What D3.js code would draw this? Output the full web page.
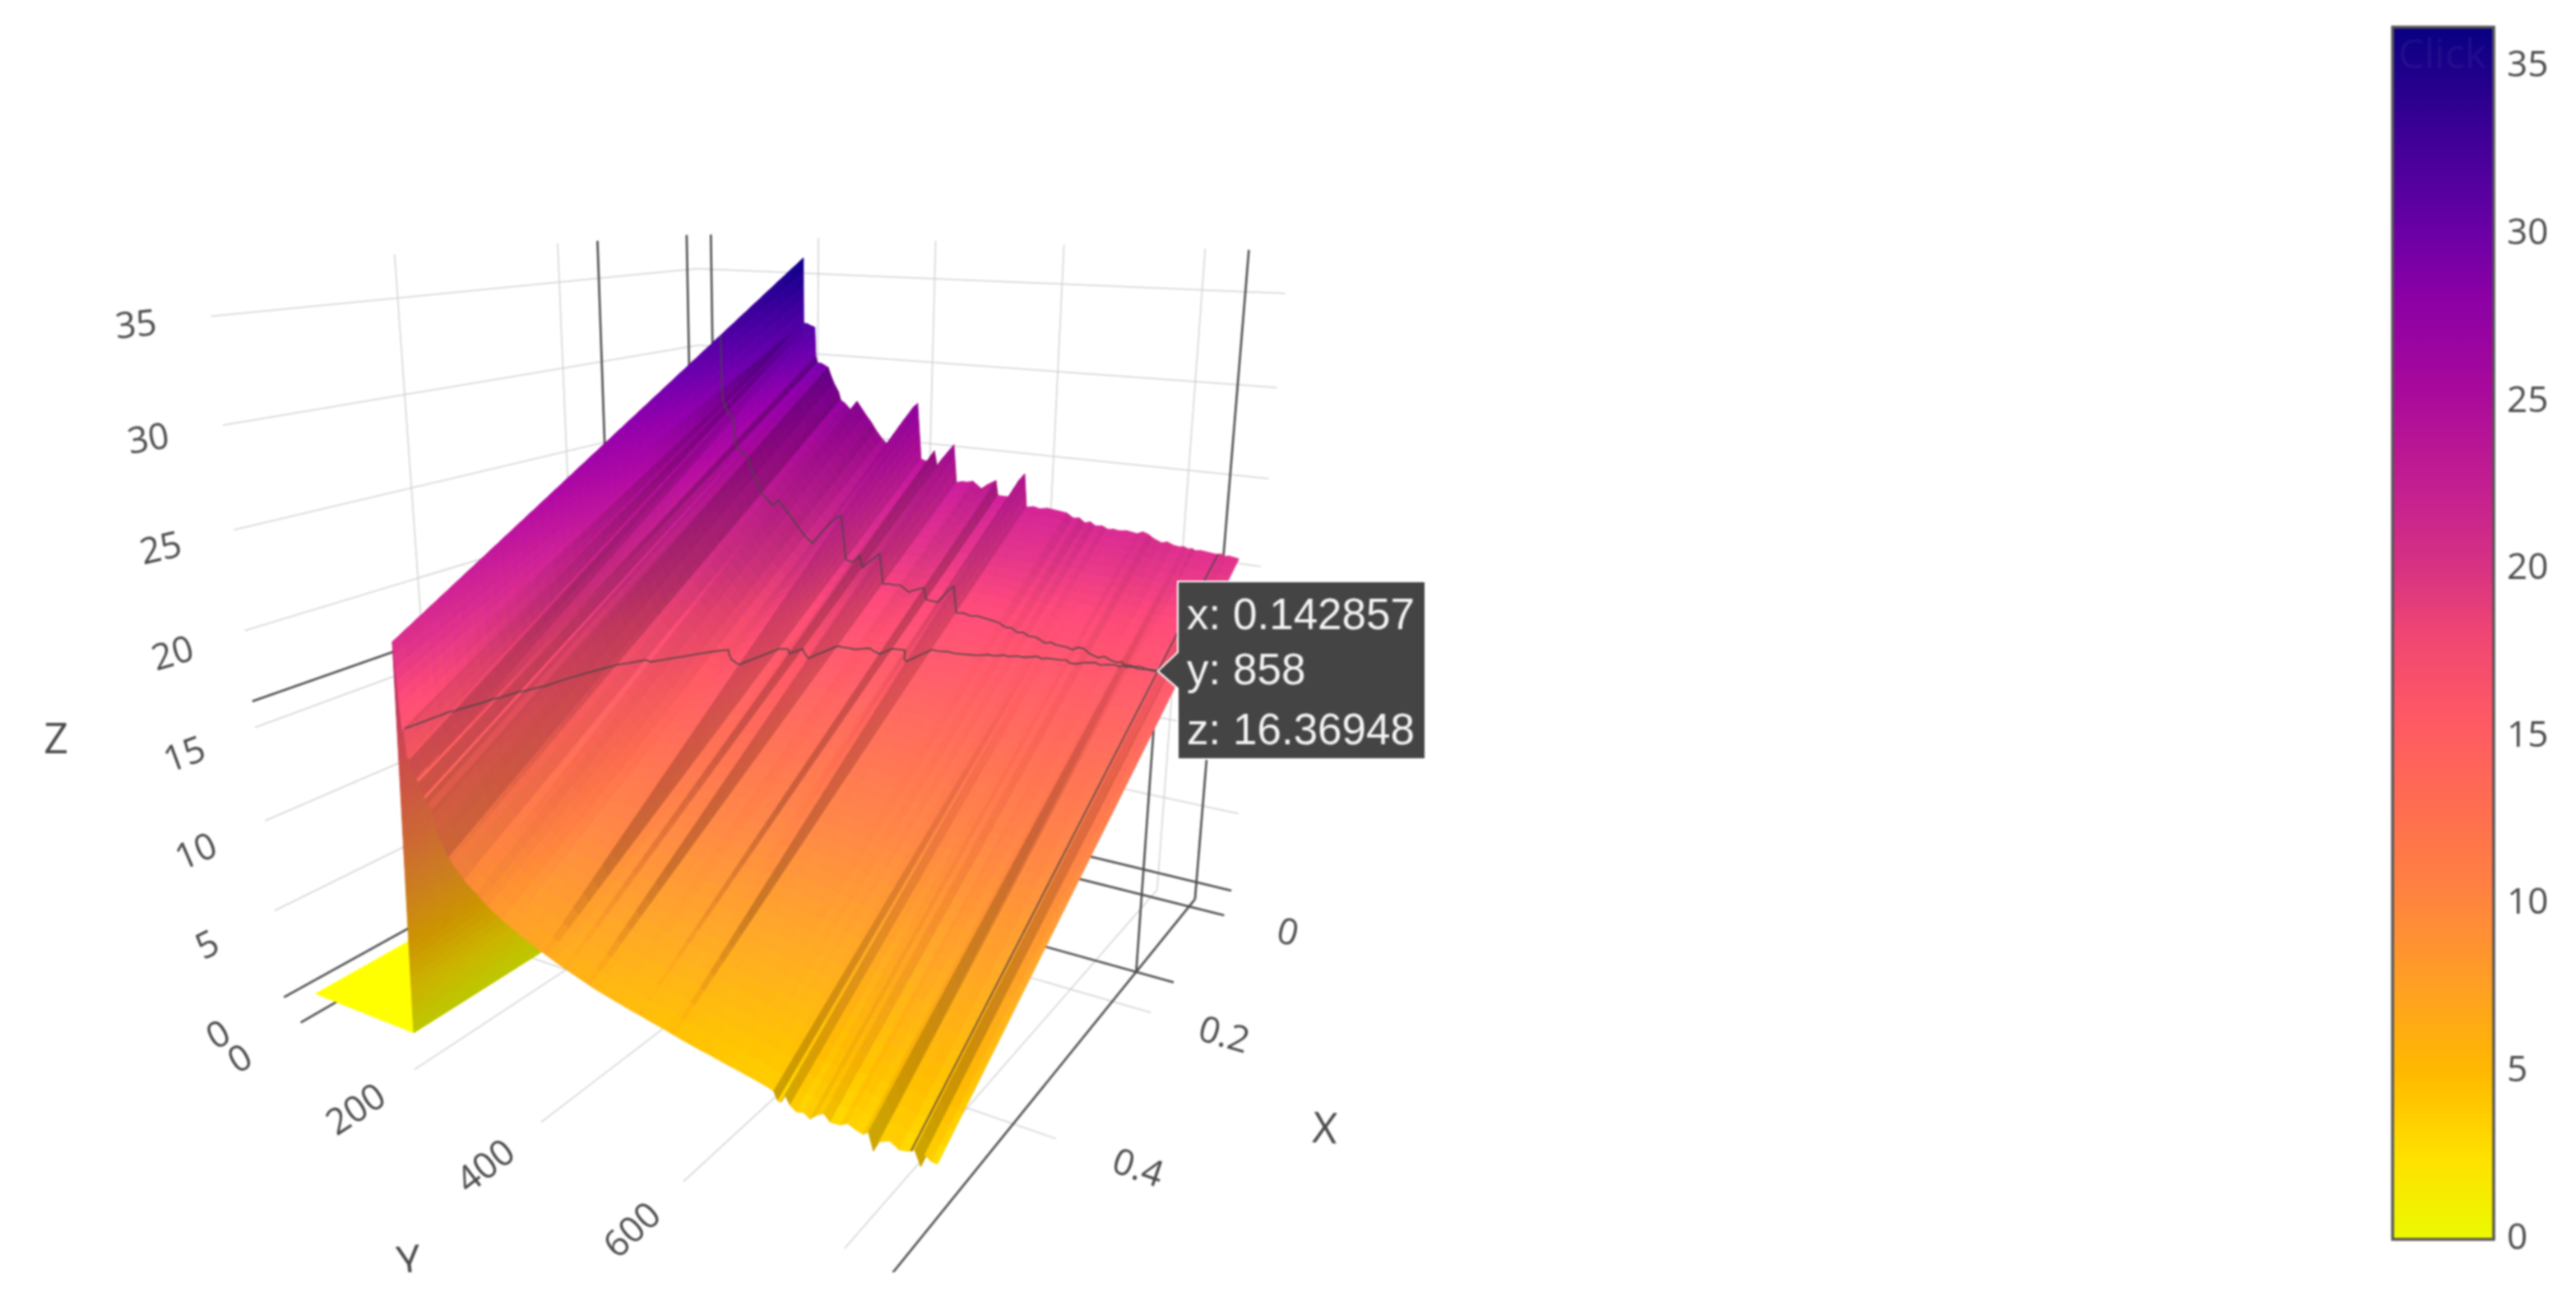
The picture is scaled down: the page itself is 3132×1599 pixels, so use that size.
<!DOCTYPE html>
<html>
<head>
<meta charset="utf-8">
<script src="https://cdnjs.cloudflare.com/ajax/libs/d3/7.8.5/d3.min.js"></script>
<style>
    html, body { margin: 0; background: #fff; }
    svg { display: block; filter: blur(0.8px); }
    text { font-family: "Open Sans", sans-serif; fill: #4a4a4a; }
    .tip text { font-family: "Liberation Sans", Arial, sans-serif; fill: #f4f4f4; }
</style>
</head>
<body>
<svg id="chart" width="3132" height="1599"></svg>
<script>
// surface data: z at both ends of x for every y row
var yValues = [0, 174, 190, 191, 193, 195, 197, 200, 203, 207, 211, 213, 216, 222, 225, 228, 233, 235, 240, 246, 254, 258, 266, 277, 282, 287, 295,
    303, 312, 321, 332, 344, 358, 370, 385, 391, 399, 409, 415, 421, 426, 435, 445, 453, 459, 468, 477,
    486, 493, 500, 510, 523, 527, 535, 544, 552, 560, 568, 573, 584, 594, 605, 616, 627, 636, 646, 655,
    664, 672, 680, 690, 698, 703, 707, 712, 718, 726, 734, 742, 750, 758, 766, 778, 786, 795, 804, 810,
    816, 822, 826, 834, 845, 856, 862, 869, 873, 881, 887];
var zAtXMin = [0, 0, 36, 32, 32, 32, 32, 31.95, 31.9, 31.85, 31.8, 30, 29.6, 29.6, 29.55, 29.5, 29.4, 29.4, 28.9, 28.4, 27.9, 27.4, 27.2, 26.8, 27.1, 27.4, 27,
    26.6, 26.2, 25.7, 25.2, 24.8, 25.8, 26.6, 27.4, 27.6, 24.2, 24.1, 24.4, 24.8, 23.9, 24.4, 24.9, 25.3, 23, 23.1, 23.1,
    23.2, 23, 22.8, 23.1, 23.4, 22.5, 22.5, 22.5, 23, 23.6, 24, 22, 22.1, 22, 22.1, 22.05, 22, 21.95, 21.7, 21.75,
    21.5, 21.6, 21.4, 21.45, 21.3, 21.3, 21.35, 21.3, 21.3, 21.35, 21.3, 21.25, 21.4, 21.3, 21.1, 20.9, 21, 20.85, 20.8, 20.85,
    20.75, 20.8, 20.7, 20.75, 20.7, 20.65, 20.7, 20.6, 20.65, 20.6, 20.55];
var zAtXMax = [0, 0, 20.6, 20, 17.5, 16.3, 16.2, 15, 14.9, 14.4, 14, 13.95, 13.9, 13.2, 13.15, 12.9, 12.6, 12.4, 11.6, 11.1, 10.4, 10.25, 9.95, 9.5, 9.35, 9.2, 9,
    8.75, 8.5, 8.3, 8.05, 7.85, 7.6, 7.4, 7.15, 7.07, 6.95, 6.8, 6.72, 6.65, 6.58, 6.47, 6.35, 6.25, 6.18, 6.08, 6,
    5.92, 5.85, 5.8, 5.7, 5.6, 5.57, 5.5, 5.42, 5.36, 5.3, 5.22, 5.18, 5.08, 5, 4.92, 4.85, 4.77, 4.7, 4.63, 4.57,
    4.5, 4.45, 4.38, 4.3, 4.2, 3.8, 3.8, 4.2, 3.8, 3.6, 3.7, 3.5, 3.8, 4, 3.7, 3.75, 3.95, 3.8, 3.7, 3.9,
    3.1, 3.6, 3.7, 3.85, 3.6, 3.7, 3.85, 3.2, 3.8, 3.6, 3.6];
var xMax = 0.5625;

// the point under the cursor
var hoverX = 0.142857, hoverY = 858, hoverZ = 16.36948;

var xTicks = [0, 0.2, 0.4];
var yTicks = [0, 200, 400, 600, 800];
var yTickLabels = [0, 200, 400, 600];
var zTicks = [0, 5, 10, 15, 20, 25, 30, 35];
var colorbarTicks = [0, 5, 10, 15, 20, 25, 30, 35];

var xRange = [-0.0176, 0.58];
var yRange = [-27.6, 910];
var zRange = [-1.13, 37.2];
var zMax = 36.1;

var colorValues = [0, 2.4, 5, 7.5, 10.4, 12.8, 15.4, 18, 20, 22.5, 25.2, 28, 30.4, 33, 36.1];
var colorList = ["#ebfa00", "#ffe100", "#ffb900", "#ffa023", "#ff8241", "#ff6e50", "#ff5a64", "#f04673", "#d73282",
    "#c31e91", "#aa0a9b", "#8c00a5", "#6400a5", "#3c0096", "#080082"];

// perspective camera fitted to the gridlines of the scene, works on the unit cube
var camera = [
    [-607.814, 375.363, -94.79238, 858.5088],
    [-54.80245, -34.98959, -689.1441, 945.9446],
    [-0.2789821, -0.1747933, -0.09844769, 1]
];

var xUnit = d3.scaleLinear().domain(xRange).range([0, 1]);
var yUnit = d3.scaleLinear().domain(yRange).range([0, 1]);
var zUnit = d3.scaleLinear().domain(zRange).range([0, 1]);
var colorScale = d3.scaleLinear().domain(colorValues).range(colorList).interpolate(d3.interpolateRgb);

function project(x, y, z) {
    var a = xUnit(x), b = yUnit(y), c = zUnit(z);
    var w = camera[2][0] * a + camera[2][1] * b + camera[2][2] * c + camera[2][3];
    return [
        (camera[0][0] * a + camera[0][1] * b + camera[0][2] * c + camera[0][3]) / w,
        (camera[1][0] * a + camera[1][1] * b + camera[1][2] * c + camera[1][3]) / w
    ];
}

var svg = d3.select("#chart");
var line = d3.line();

svg.append("clipPath").attr("id", "sceneClip")
    .append("rect").attr("x", 0).attr("y", 0).attr("width", 1800).attr("height", 1547);
var scene = svg.append("g").attr("clip-path", "url(#sceneClip)");

// ---- walls: grid and zero lines ----
var gridData = [];
function addLine(a, b, value, kind) {
    gridData.push({ a: a, b: b, dark: kind === "spike" || value === 0 });
}
zTicks.forEach(function (z) {
    addLine([xRange[1], yRange[0], z], [xRange[0], yRange[0], z], z);
    addLine([xRange[0], yRange[0], z], [xRange[0], yRange[1], z], z);
});
xTicks.forEach(function (x) {
    addLine([x, yRange[0], zRange[0]], [x, yRange[0], zRange[1]], x);
    addLine([x, yRange[0], zRange[0]], [x, yRange[1], zRange[0]], x);
});
yTicks.forEach(function (y) {
    addLine([xRange[0], y, zRange[0]], [xRange[0], y, zRange[1]], y);
    addLine([xRange[0], y, zRange[0]], [xRange[1], y, zRange[0]], y);
});

// spikes of the hovered point, on the walls and the floor
addLine([xRange[1], yRange[0], hoverZ], [xRange[0], yRange[0], hoverZ], 0, "spike");
addLine([xRange[0], yRange[0], hoverZ], [xRange[0], yRange[1], hoverZ], 0, "spike");
addLine([hoverX, yRange[0], zRange[0]], [hoverX, yRange[0], zRange[1]], 0, "spike");
addLine([xRange[0], hoverY, zRange[0]], [xRange[0], hoverY, zRange[1]], 0, "spike");
addLine([hoverX, yRange[0], zRange[0]], [hoverX, yRange[1], zRange[0]], 0, "spike");
addLine([xRange[0], hoverY, zRange[0]], [xRange[1] + 0.2, hoverY, zRange[0]], 0, "spike");
addLine([hoverX, hoverY, zRange[0]], [hoverX, hoverY, hoverZ], 0, "spike");

scene.append("g").selectAll("line")
    .data(gridData.slice().sort(function (a, b) { return a.dark - b.dark; }))
    .enter()
    .append("line")
    .attr("x1", function (d) { return project.apply(null, d.a)[0]; })
    .attr("y1", function (d) { return project.apply(null, d.a)[1]; })
    .attr("x2", function (d) { return project.apply(null, d.b)[0]; })
    .attr("y2", function (d) { return project.apply(null, d.b)[1]; })
    .attr("stroke", function (d) { return d.dark ? "#4c4c4c" : "#d2d2d2"; })
    .attr("stroke-width", function (d) { return d.dark ? 2.6 : 1.5; });

// ---- surface, painted from the far rows to the near rows ----
var xSteps = d3.range(0, 49).map(function (i) { return i / 48; });

function zOn(i, t) {
    return zAtXMin[i] + (zAtXMax[i] - zAtXMin[i]) * t;
}

// plotly lights from above, so a face gets darker the steeper it is,
// only the sheer drops towards the viewer catch the light
var dropLight = d3.scaleLinear().domain([3, 14]).range([0, 1]).clamp(true);
function shade(color, slopeX, slopeY) {
    var k = Math.max(0.8, 0.535 + 0.594 / Math.sqrt(1 + slopeX * slopeX + slopeY * slopeY));
    if (slopeY < 0) k += (1.05 - k) * dropLight(-slopeY);
    var c = d3.rgb(color);
    return d3.rgb(Math.min(255, c.r * k), Math.min(255, c.g * k), Math.min(255, c.b * k)).formatRgb();
}

var zSpan = zRange[1] - zRange[0], ySpan = yRange[1] - yRange[0], xSpan = xRange[1] - xRange[0];
var cells = [];
d3.pairs(yValues).forEach(function (rows, i) {
    // tall faces get cut in slices so that the colour follows z
    var slices = Math.max(1, Math.ceil(Math.max(Math.abs(zAtXMin[i + 1] - zAtXMin[i]), Math.abs(zAtXMax[i + 1] - zAtXMax[i])) / 0.8));
    d3.range(slices).forEach(function (n) {
        var f0 = n / slices, f1 = (n + 1) / slices;
        var y0 = rows[0] + (rows[1] - rows[0]) * f0, y1 = rows[0] + (rows[1] - rows[0]) * f1;
        d3.pairs(xSteps).forEach(function (ts) {
            var x0 = ts[0] * xMax, x1 = ts[1] * xMax;
            var a0 = zOn(i, ts[0]), a1 = zOn(i, ts[1]), b0 = zOn(i + 1, ts[0]), b1 = zOn(i + 1, ts[1]);
            var z00 = a0 + (b0 - a0) * f0, z01 = a1 + (b1 - a1) * f0, z10 = a0 + (b0 - a0) * f1, z11 = a1 + (b1 - a1) * f1;
            var slopeX = ((z01 - z00) / zSpan) / ((x1 - x0) / xSpan);
            var slopeY = ((z10 - z00) / zSpan) / ((y1 - y0) / ySpan);
            var color = shade(colorScale((z00 + z01 + z10 + z11) / 4), slopeX, slopeY);
            cells.push({
                corners: [project(x0, y0, z00), project(x1, y0, z01), project(x1, y1, z11), project(x0, y1, z10)],
                color: color
            });
        });
    });
});

scene.append("g").selectAll("path")
    .data(cells)
    .enter()
    .append("path")
    .attr("d", function (d) { return line(d.corners) + "Z"; })
    .attr("fill", function (d) { return d.color; })
    .attr("stroke", function (d) { return d.color; })
    .attr("stroke-width", 1);

// ---- highlight lines through the hovered point ----
var rowIndex = d3.range(2, yValues.length);
var rowAtX = rowIndex.map(function (i) {
    return project(hoverX, yValues[i], zOn(i, hoverX / xMax));
});
var hoverRow = d3.bisectLeft(yValues, hoverY);
var hoverMix = (hoverY - yValues[hoverRow - 1]) / (yValues[hoverRow] - yValues[hoverRow - 1]);
var rowAtY = xSteps.map(function (t) {
    var z = zOn(hoverRow - 1, t) + (zOn(hoverRow, t) - zOn(hoverRow - 1, t)) * hoverMix;
    return project(t * xMax, hoverY, z);
});
var rowAtZ = [];
rowIndex.forEach(function (i) {
    var t = (zAtXMin[i] - hoverZ) / (zAtXMin[i] - zAtXMax[i]);
    if (t >= 0 && t <= 1) rowAtZ.push(project(t * xMax, yValues[i], hoverZ));
});
[rowAtX, rowAtY, rowAtZ].forEach(function (points) {
    scene.append("path")
        .attr("d", line(points))
        .attr("fill", "none")
        .attr("stroke", "#444")
        .attr("stroke-opacity", 0.85)
        .attr("stroke-width", 1.8);
});

// ---- tick labels, turned along the gridline they continue ----
function addTickLabel(from, to, label, gap) {
    var a = project.apply(null, from), b = project.apply(null, to);
    var len = Math.hypot(a[0] - b[0], a[1] - b[1]);
    var ux = (a[0] - b[0]) / len, uy = (a[1] - b[1]) / len;
    var angle = Math.atan2(uy, ux) * 180 / Math.PI;
    if (angle > 90) angle -= 180;
    if (angle < -90) angle += 180;
    scene.append("text")
        .attr("transform", "translate(" + (a[0] + ux * gap) + "," + (a[1] + uy * gap) + ") rotate(" + angle + ")")
        .attr("text-anchor", "middle")
        .attr("dy", "0.36em")
        .style("font-size", "44px")
        .text(label);
}
zTicks.forEach(function (z) {
    addTickLabel([xRange[1], yRange[0], z], [xRange[1] - 0.02, yRange[0], z], String(z), 92);
});
yTickLabels.forEach(function (y) {
    addTickLabel([xRange[1], y, zRange[0]], [xRange[1] - 0.02, y, zRange[0]], String(y), 86);
});
xTicks.forEach(function (x) {
    addTickLabel([x, yRange[1], zRange[0]], [x, yRange[1] - 20, zRange[0]], String(x), x === 0 ? 80 : (x === 0.2 ? 93 : 106));
});

// axis titles
scene.append("text").attr("transform", "translate(68,897)").attr("text-anchor", "middle").attr("dy", "0.36em")
    .style("font-size", "52px").text("Z");
scene.append("text").attr("transform", "translate(1611,1371) rotate(3)").attr("text-anchor", "middle").attr("dy", "0.36em")
    .style("font-size", "52px").text("X");
scene.append("text").attr("transform", "translate(497,1533) rotate(-6)").attr("text-anchor", "middle").attr("dy", "0.36em")
    .style("font-size", "52px").text("Y");

// ---- hover label ----
var tipPoint = project(hoverX, hoverY, hoverZ);
var tip = svg.append("g").attr("class", "tip");
tip.append("path")
    .attr("d", "M" + tipPoint[0] + "," + tipPoint[1] + "L1432,793V707H1733V923H1432V837Z")
    .attr("fill", "#444")
    .attr("stroke", "#fff")
    .attr("stroke-width", 2);
[["x: " + hoverX, 765], ["y: " + hoverY, 832], ["z: " + hoverZ, 905]].forEach(function (row) {
    tip.append("text").attr("x", 1443).attr("y", row[1]).style("font-size", "53px").text(row[0]);
});

// ---- colorbar ----
var barScale = d3.scaleLinear().domain([0, zMax]).range([1503, 33]);

var gradient = svg.append("defs").append("linearGradient")
    .attr("id", "barGradient")
    .attr("x1", 0).attr("y1", 1).attr("x2", 0).attr("y2", 0);
colorValues.forEach(function (v, i) {
    gradient.append("stop")
        .attr("offset", v / zMax)
        .attr("stop-color", colorList[i]);
});

var bar = svg.append("g");
bar.append("rect")
    .attr("x", 2909).attr("y", barScale(zMax))
    .attr("width", 123).attr("height", 1474)
    .attr("fill", "url(#barGradient)")
    .attr("stroke", "#555")
    .attr("stroke-width", 3.5);
bar.append("text")
    .attr("x", 2916).attr("y", 83)
    .attr("fill-opacity", 0.05)
    .style("fill", "#fff")
    .style("font-size", "50px")
    .text("Click");

var barAxis = d3.axisRight(barScale)
    .tickValues(colorbarTicks)
    .tickSize(0)
    .tickPadding(15);
var axisGroup = svg.append("g")
    .attr("transform", "translate(3033,1)")
    .call(barAxis);
axisGroup.select(".domain").remove();
axisGroup.selectAll("text")
    .style("font-size", "44px")
    .style("font-family", "\"Open Sans\", sans-serif")
    .style("fill", "#4a4a4a");
</script>
</body>
</html>
